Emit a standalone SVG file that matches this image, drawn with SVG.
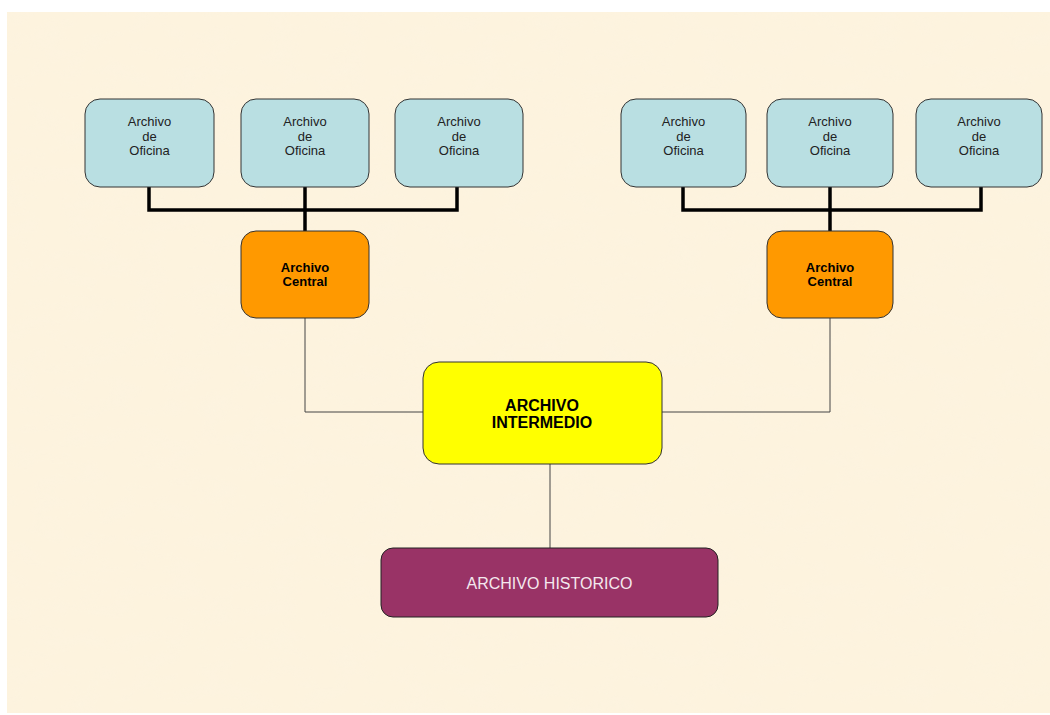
<svg xmlns="http://www.w3.org/2000/svg" width="1050" height="715" viewBox="0 0 1050 715">
<style>
.of{fill:#b9dfe2;stroke:#333;stroke-width:1}
.ce{fill:#ff9900;stroke:#333;stroke-width:1}
.im{fill:#ffff00;stroke:#333;stroke-width:1}
.hi{fill:#993366;stroke:#222;stroke-width:1}
.t{font-family:"Liberation Sans",Arial,sans-serif;text-anchor:middle;fill:#222}
.ts{font-size:13px}
.tb{font-weight:bold;fill:#000}
.thick{fill:none;stroke:#000;stroke-width:3.5}
.thin{fill:none;stroke:#444;stroke-width:1}
</style>
<defs>
<filter id="tex" x="0" y="0" width="100%" height="100%">
<feTurbulence type="fractalNoise" baseFrequency="0.03 0.06" numOctaves="3" seed="4"/>
<feColorMatrix type="matrix" values="0 0 0 0 0.96  0 0 0 0 0.9  0 0 0 0 0.78  0 0 0 -1.2 0.7"/>
</filter>
</defs>
<rect width="1050" height="715" fill="#ffffff"/>
<rect x="7" y="12" width="1043" height="701" fill="#fdf3de"/>
<rect x="7" y="12" width="1043" height="701" filter="url(#tex)" opacity="0.35"/>
<g id="connectors">
<polyline class="thick" points="149,187 149,210 457,210 457,187"/>
<line class="thick" x1="305" y1="187" x2="305" y2="231"/>
<polyline class="thick" points="683,187 683,210 981,210 981,187"/>
<line class="thick" x1="830" y1="187" x2="830" y2="231"/>
<polyline class="thin" points="305,318 305,412 423,412"/>
<polyline class="thin" points="830,318 830,412 662,412"/>
<line class="thin" x1="550" y1="464" x2="550" y2="548"/>
</g>
<g id="oficina1"><rect class="of" x="85" y="99" width="129" height="88" rx="15"/><text class="t ts"><tspan x="149.5" y="126">Archivo</tspan><tspan x="149.5" y="141">de</tspan><tspan x="149.5" y="155">Oficina</tspan></text></g>
<g id="oficina2"><rect class="of" x="241" y="99" width="128" height="88" rx="15"/><text class="t ts"><tspan x="305" y="126">Archivo</tspan><tspan x="305" y="141">de</tspan><tspan x="305" y="155">Oficina</tspan></text></g>
<g id="oficina3"><rect class="of" x="395" y="99" width="128" height="88" rx="15"/><text class="t ts"><tspan x="459" y="126">Archivo</tspan><tspan x="459" y="141">de</tspan><tspan x="459" y="155">Oficina</tspan></text></g>
<g id="oficina4"><rect class="of" x="621" y="99" width="125" height="88" rx="15"/><text class="t ts"><tspan x="683.5" y="126">Archivo</tspan><tspan x="683.5" y="141">de</tspan><tspan x="683.5" y="155">Oficina</tspan></text></g>
<g id="oficina5"><rect class="of" x="767" y="99" width="126" height="88" rx="15"/><text class="t ts"><tspan x="830" y="126">Archivo</tspan><tspan x="830" y="141">de</tspan><tspan x="830" y="155">Oficina</tspan></text></g>
<g id="oficina6"><rect class="of" x="916" y="99" width="126" height="88" rx="15"/><text class="t ts"><tspan x="979" y="126">Archivo</tspan><tspan x="979" y="141">de</tspan><tspan x="979" y="155">Oficina</tspan></text></g>
<g id="central1"><rect class="ce" x="241" y="231" width="128" height="87" rx="15"/><text class="t ts tb"><tspan x="305" y="272">Archivo</tspan><tspan x="305" y="286">Central</tspan></text></g>
<g id="central2"><rect class="ce" x="767" y="231" width="126" height="87" rx="15"/><text class="t ts tb"><tspan x="830" y="272">Archivo</tspan><tspan x="830" y="286">Central</tspan></text></g>
<g id="intermedio"><rect class="im" x="423" y="362" width="239" height="102" rx="16"/><text class="t tb" font-size="16"><tspan x="542" y="411">ARCHIVO</tspan><tspan x="542" y="428">INTERMEDIO</tspan></text></g>
<g id="historico"><rect class="hi" x="381" y="548" width="337" height="69" rx="12"/><text class="t" font-size="16" x="549.5" y="589" style="fill:#f4e8ee">ARCHIVO HISTORICO</text></g>
</svg>
